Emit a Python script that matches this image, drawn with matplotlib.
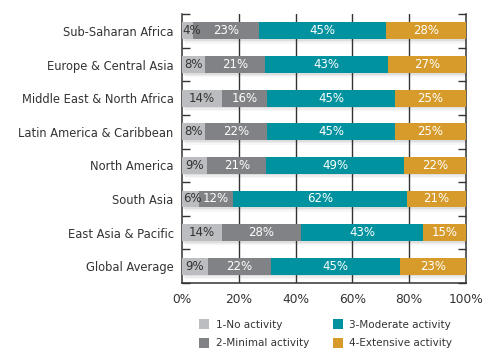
import numpy as np
import matplotlib
matplotlib.use("Agg")
from matplotlib import pyplot as plt
from matplotlib.patches import Patch

regions = ['Sub-Saharan Africa', 'Europe & Central Asia', 'Middle East & North Africa',
           'Latin America & Caribbean', 'North America', 'South Asia',
           'East Asia & Pacific', 'Global Average']
no_activity = [4, 8, 14, 8, 9, 6, 14, 9]
minimal = [23, 21, 16, 22, 21, 12, 28, 22]
moderate = [45, 43, 45, 45, 49, 62, 43, 45]
extensive = [28, 27, 25, 25, 22, 21, 15, 23]
series_names = ['1-No activity', '2-Minimal activity', '3-Moderate activity', '4-Extensive activity']
colors = ['#bcbdc0', '#808285', '#00929f', '#d69b2a']
label_colors = ['#333333', 'white', 'white', 'white']

plt.rcParams['font.family'] = ['DejaVu Sans']

data = np.array([no_activity, minimal, moderate, extensive], dtype=float)
widths = data / data.sum(axis=0) * 100   # bars fill to 100%

fig = plt.figure(figsize=(4.91, 3.61), dpi=100)
ax = fig.add_axes([0.3707, 0.216, 0.578, 0.745])

y = np.arange(len(regions))
h = 0.5

# soft drop shadow below each bar (y axis is inverted)
for k, a in enumerate([0.06, 0.04, 0.03]):
    ax.barh(y + 0.05 + 0.04 * k, 100, height=h, left=0.3 + 0.3 * k, color='black',
            alpha=a, zorder=1, linewidth=0)

left = np.zeros(len(regions))
for i in range(4):
    ax.barh(y, widths[i], height=h, left=left, color=colors[i], zorder=3, linewidth=0)
    for j in range(len(regions)):
        v = int(data[i, j])
        if v < 7:
            ax.text(left[j] + 0.3, y[j], f'{v}%', ha='left', va='center',
                    color=label_colors[i], fontsize=8.5, zorder=4)
        else:
            ax.text(left[j] + widths[i, j] / 2, y[j], f'{v}%', ha='center', va='center',
                    color=label_colors[i], fontsize=8.5, zorder=4)
    left += widths[i]

ax.set_xlim(0, 100)
ax.set_ylim(len(regions) - 0.5, -0.5)
ax.set_yticks(y)
ax.set_yticklabels(regions, fontsize=8.3, color='#333333')
ax.tick_params(axis='y', which='major', length=0, pad=6)
ax.set_yticks(np.arange(-0.5, len(regions)), minor=True)
ax.tick_params(axis='y', which='minor', length=6, width=1, direction='in',
               left=True, right=True, color='#333333')
ax.set_xticks([0, 20, 40, 60, 80, 100])
ax.set_xticklabels([f'{t}%' for t in [0, 20, 40, 60, 80, 100]], fontsize=8.8, color='#333333')
ax.tick_params(axis='x', length=0, pad=7)

for xv in [20, 40, 60, 80]:
    ax.axvline(xv, color='#333333', linewidth=1, zorder=2)

for s in ['left', 'bottom', 'right']:
    ax.spines[s].set_color('#333333')
    ax.spines[s].set_linewidth(1.1)
ax.spines['top'].set_visible(False)

handles = [Patch(facecolor=c, edgecolor='none') for c in colors]
fig.legend(handles, series_names, loc='upper left', bbox_to_anchor=(0.405, 0.115),
           ncol=2, frameon=False, fontsize=7.5, handlelength=1.0, handleheight=1.1,
           handletextpad=0.6, columnspacing=2.3, labelspacing=0.75, labelcolor='#333333',
           borderpad=0, borderaxespad=0)

fig.savefig('out.png', dpi=100)
